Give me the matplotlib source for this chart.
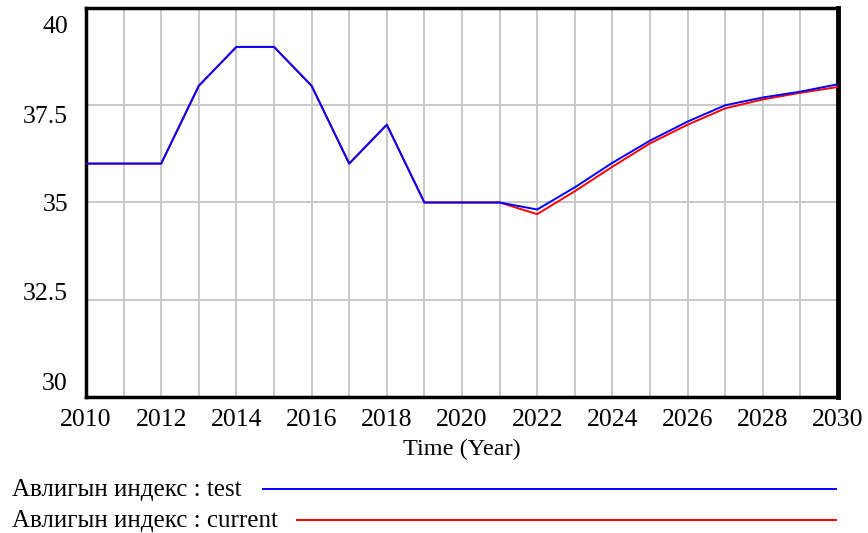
import matplotlib.pyplot as plt
from matplotlib.transforms import ScaledTranslation

plt.rcParams['font.family'] = ['Liberation Serif', 'DejaVu Serif']

years = list(range(2010, 2031))
test = [36, 36, 36, 38, 39, 39, 38, 36, 37, 35, 35, 35,
        34.82, 35.39, 36.02, 36.59, 37.08, 37.50, 37.70, 37.85, 38.04]
current = [36, 36, 36, 38, 39, 39, 38, 36, 37, 35, 35, 35,
           34.70, 35.29, 35.92, 36.52, 37.00, 37.42, 37.65, 37.82, 37.97]

y_ticks = [30, 32.5, 35, 37.5, 40]
y_labels = ['30', '32.5', '35', '37.5', '40']
x_ticks = list(range(2010, 2031, 2))

fig = plt.figure(figsize=(8.68, 5.33), dpi=100)
ax = fig.add_axes([86 / 868, 1 - 397 / 533, 752 / 868, 389 / 533])

ax.plot(years, current, color='#ff0000', lw=1.4, zorder=3)
ax.plot(years, test, color='#0000ff', lw=1.4, zorder=4)

ax.set_xlim(2010, 2030)
ax.set_ylim(30, 40)
ax.set_xticks(years, minor=True)
ax.set_xticks(x_ticks)
ax.set_yticks(y_ticks, y_labels)
ax.grid(True, which='both', axis='x', color='#c8c8c8', lw=1.4)
ax.grid(True, which='major', axis='y', color='#c8c8c8', lw=1.4)
ax.set_axisbelow(True)
ax.tick_params(which='both', length=0)
ax.tick_params(axis='y', pad=13, labelsize=18.5)
ax.tick_params(axis='x', pad=9, labelsize=18.5)

# y labels are spread evenly inside the frame rather than on the gridlines
shifts = {'30': 15, '32.5': 8, '35': 0, '37.5': -9, '40': -17}
for lab in ax.get_yticklabels():
    dy = shifts[lab.get_text()] / 100
    lab.set_transform(lab.get_transform() + ScaledTranslation(0, dy, fig.dpi_scale_trans))

for s in ax.spines.values():
    s.set_linewidth(2.5)
    s.set_color('black')
ax.spines['right'].set_linewidth(3.5)

ax.set_xlabel('Time (Year)', fontsize=17.5, labelpad=5)

# legend rows below the plot
fig.text(12 / 868, 1 - 490 / 533, 'Авлигын индекс : test', fontsize=18, va='center', ha='left')
fig.text(12 / 868, 1 - 521 / 533, 'Авлигын индекс : current', fontsize=18, va='center', ha='left')
fig.add_artist(plt.Line2D([263 / 868, 836 / 868], [1 - 489 / 533] * 2, color='#0000ff', lw=1.4))
fig.add_artist(plt.Line2D([297 / 868, 836 / 868], [1 - 520 / 533] * 2, color='#ff0000', lw=1.4))

fig.savefig('out.png', dpi=100)
